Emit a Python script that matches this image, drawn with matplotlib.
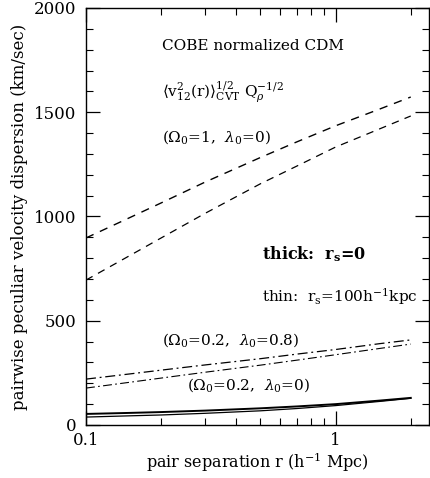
import matplotlib
matplotlib.use('Agg')
import matplotlib.pyplot as plt
from matplotlib.ticker import FixedLocator, NullFormatter, MultipleLocator

plt.rcParams['font.family'] = ['DejaVu Serif']
plt.rcParams['mathtext.fontset'] = 'dejavuserif'

# pair separation r (h^-1 Mpc)
r = [0.1, 0.15, 0.2, 0.3, 0.5, 0.7, 1.0, 1.5, 2.0]

# Omega0=1, lambda0=0 (dashed)
v_om1_thick = [897, 995, 1065, 1165, 1283, 1358, 1435, 1515, 1573]
v_om1_thin = [695, 813, 897, 1015, 1157, 1242, 1333, 1420, 1482]

# Omega0=0.2, lambda0=0.8 (dash-dot)
v_lam_thick = [220, 245, 263, 288, 318, 340, 362, 390, 408]
v_lam_thin = [177, 205, 225, 253, 287, 311, 337, 367, 388]

# Omega0=0.2, lambda0=0 (solid)
v_open_thick = [53, 58, 62, 69, 80, 89, 100, 117, 130]
v_open_thin = [38, 44, 48, 56, 68, 79, 93, 113, 128]

fig = plt.figure(figsize=(4.3, 4.78), dpi=100)
ax = fig.add_axes([0.2, 0.1109, 0.798, 0.8724])

ax.plot(r, v_om1_thick, color='black', lw=1.0, linestyle=(0, (6, 5)))
ax.plot(r, v_om1_thin, color='black', lw=0.9, linestyle=(0, (6, 5)))
ax.plot(r, v_lam_thick, color='black', lw=0.9, linestyle=(0, (8, 3, 1.5, 3)))
ax.plot(r, v_lam_thin, color='black', lw=0.8, linestyle=(0, (8, 3, 1.5, 3)))
ax.plot(r, v_open_thick, color='black', lw=1.4)
ax.plot(r, v_open_thin, color='black', lw=0.9)

ax.set_xscale('log')
ax.set_xlim(0.1, 2.37)
ax.set_ylim(0, 2000)

ax.xaxis.set_major_locator(FixedLocator([0.1, 1]))
ax.set_xticklabels(['0.1', '1'])
ax.xaxis.set_minor_locator(FixedLocator([0.2, 0.3, 0.4, 0.5, 0.6, 0.7, 0.8, 0.9, 2.0]))
ax.xaxis.set_minor_formatter(NullFormatter())
ax.yaxis.set_major_locator(MultipleLocator(500))
ax.yaxis.set_minor_locator(MultipleLocator(100))

ax.tick_params(which='both', direction='in', top=True, right=True, labelsize=12)
ax.tick_params(which='major', length=10, width=0.9)
ax.tick_params(which='minor', length=5, width=0.8)
ax.tick_params(axis='x', which='major', pad=5)
ax.tick_params(axis='y', which='major', pad=7)
for s in ax.spines.values():
    s.set_linewidth(1.0)

ax.set_xlabel(r'pair separation r (h$^{-1}$ Mpc)', fontsize=11.5, labelpad=1)
ax.set_ylabel('pairwise peculiar velocity dispersion (km/sec)', fontsize=12, labelpad=4)

tr = ax.transAxes
ax.text(0.2216, 0.909, 'COBE normalized CDM', transform=tr, fontsize=11, va='center')
ax.text(0.2216, 0.7986,
        r'$\langle \mathrm{v}_{12}^{2}(\mathrm{r})\rangle_{\mathrm{CVT}}^{1/2}\ \mathrm{Q}_{\rho}^{-1/2}$',
        transform=tr, fontsize=11, va='center')
ax.text(0.2216, 0.6906, r'($\Omega_0$=1,  $\lambda_0$=0)', transform=tr, fontsize=11, va='center')
ax.text(0.513, 0.410, r'thick:  $\mathbf{r_s}$=0', transform=tr, fontsize=11.5,
        fontweight='bold', va='center')
ax.text(0.513, 0.309, r'thin:  r$_\mathrm{s}$=100h$^{-1}$kpc', transform=tr, fontsize=11, va='center')
ax.text(0.2216, 0.204, r'($\Omega_0$=0.2,  $\lambda_0$=0.8)', transform=tr, fontsize=11, va='center')
ax.text(0.2945, 0.0959, r'($\Omega_0$=0.2,  $\lambda_0$=0)', transform=tr, fontsize=11, va='center')

fig.savefig('out.png', dpi=100)
